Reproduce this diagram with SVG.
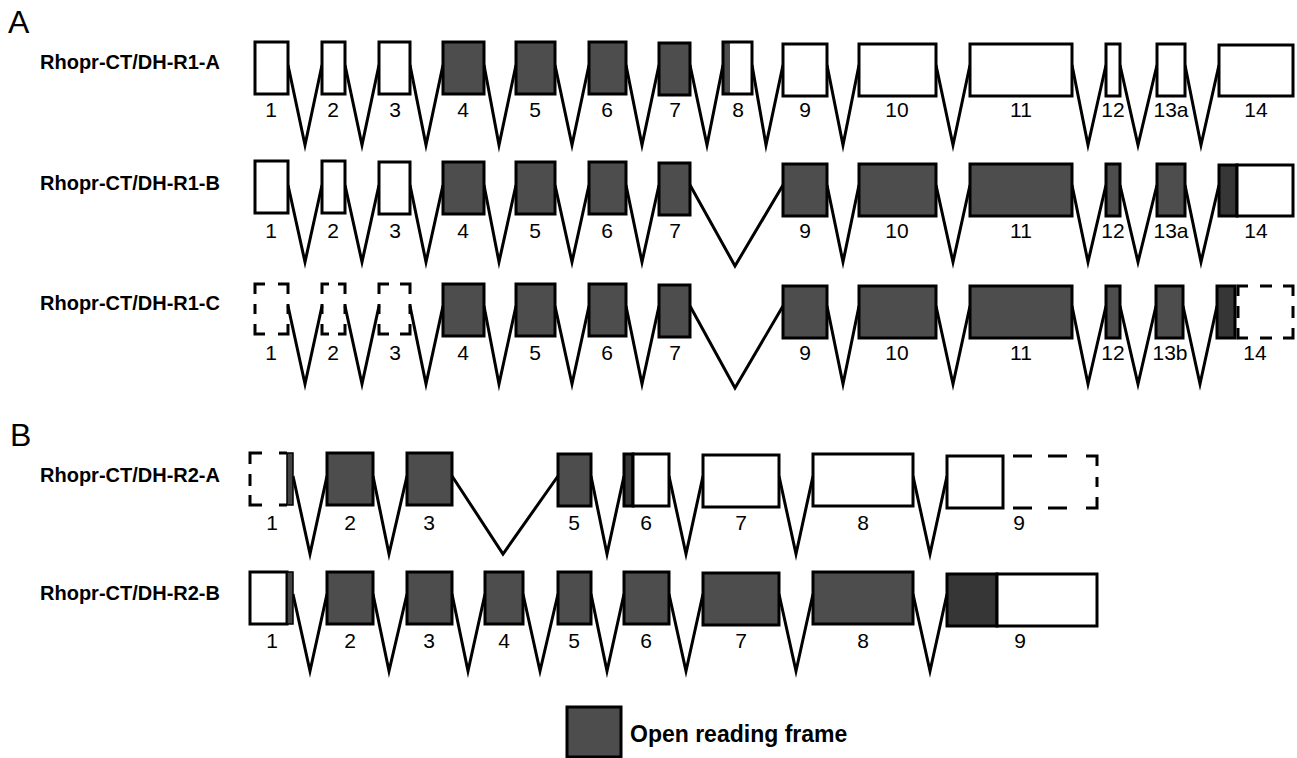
<svg xmlns="http://www.w3.org/2000/svg" width="1297" height="758" viewBox="0 0 1297 758">
<style>
.e{stroke:#000;stroke-width:3}
.w{fill:#fff}
.d{fill:#4d4d4d}
.dd{fill:#363636}
.o{fill:none;stroke:#000;stroke-width:3}
.ds{fill:none;stroke:#000;stroke-width:3;stroke-linejoin:miter}
.in{fill:none;stroke:#000;stroke-width:3;stroke-linejoin:miter;stroke-miterlimit:20}
.n{font-family:"Liberation Sans",Arial,sans-serif;font-size:21px;text-anchor:middle;fill:#000}
.l{font-family:"Liberation Sans",Arial,sans-serif;font-size:20px;font-weight:bold;fill:#000}
.p{font-family:"Liberation Sans",Arial,sans-serif;font-size:32px;fill:#000}
</style>
<rect width="1297" height="758" fill="#fff"/>
<text class="p" x="8" y="33">A</text>
<text class="p" x="10" y="446">B</text>
<text class="l" x="40" y="69">Rhopr-CT/DH-R1-A</text>
<text class="l" x="40" y="190">Rhopr-CT/DH-R1-B</text>
<text class="l" x="40" y="310">Rhopr-CT/DH-R1-C</text>
<text class="l" x="40" y="482">Rhopr-CT/DH-R2-A</text>
<text class="l" x="40" y="600">Rhopr-CT/DH-R2-B</text>

<g id="introns">
<polyline class="in" points="288,65 305,145 322,65"/>
<polyline class="in" points="345,65 362,145 379,65"/>
<polyline class="in" points="410,65 426,145 443,65"/>
<polyline class="in" points="484,65 499,145 516,65"/>
<polyline class="in" points="555,65 572,145 589,65"/>
<polyline class="in" points="626,65 642,145 659,65"/>
<polyline class="in" points="690,65 707,145 723,65"/>
<polyline class="in" points="752,65 766,145 783,65"/>
<polyline class="in" points="827,65 843,145 859,65"/>
<polyline class="in" points="936,65 953,145 970,65"/>
<polyline class="in" points="1072,65 1088,145 1106,65"/>
<polyline class="in" points="1120,65 1138,145 1157,65"/>
<polyline class="in" points="1185,65 1201,145 1219,65"/>

<polyline class="in" points="288,185 305,262 322,185"/>
<polyline class="in" points="345,185 362,262 379,185"/>
<polyline class="in" points="410,185 426,262 443,185"/>
<polyline class="in" points="484,185 499,262 516,185"/>
<polyline class="in" points="555,185 572,262 589,185"/>
<polyline class="in" points="626,185 642,262 659,185"/>
<polyline class="in" points="690,185 735,266 783,185"/>
<polyline class="in" points="827,185 843,262 859,185"/>
<polyline class="in" points="936,185 953,262 970,185"/>
<polyline class="in" points="1072,185 1088,262 1106,185"/>
<polyline class="in" points="1120,185 1138,262 1157,185"/>
<polyline class="in" points="1185,185 1201,262 1219,185"/>

<polyline class="in" points="288,306 305,384 322,306"/>
<polyline class="in" points="345,306 362,384 379,306"/>
<polyline class="in" points="410,306 426,384 443,306"/>
<polyline class="in" points="484,306 499,384 516,306"/>
<polyline class="in" points="555,306 572,384 589,306"/>
<polyline class="in" points="626,306 642,384 659,306"/>
<polyline class="in" points="690,306 735,388 783,306"/>
<polyline class="in" points="827,306 843,384 859,306"/>
<polyline class="in" points="936,306 953,384 970,306"/>
<polyline class="in" points="1072,306 1088,384 1106,306"/>
<polyline class="in" points="1120,306 1138,384 1156,306"/>
<polyline class="in" points="1183,306 1200,384 1217,306"/>

<polyline class="in" points="293,476 310,554 327,476"/>
<polyline class="in" points="373,476 389,554 407,476"/>
<polyline class="in" points="452,476 503,554 558,476"/>
<polyline class="in" points="591,476 607,554 624,476"/>
<polyline class="in" points="669,476 686,554 703,476"/>
<polyline class="in" points="779,476 796,554 813,476"/>
<polyline class="in" points="913,476 930,554 947,476"/>

<polyline class="in" points="293,594 310,671 327,594"/>
<polyline class="in" points="373,594 389,671 407,594"/>
<polyline class="in" points="452,594 468,671 485,594"/>
<polyline class="in" points="523,594 540,671 558,594"/>
<polyline class="in" points="591,594 607,671 624,594"/>
<polyline class="in" points="669,594 686,671 703,594"/>
<polyline class="in" points="779,594 796,671 813,594"/>
<polyline class="in" points="913,594 930,671 947,594"/>
</g>

<!-- Row R1-A -->
<g id="r1a-e1"><rect class="e w" x="255" y="42" width="33" height="52"/><text class="n" x="271" y="117">1</text></g>
<g id="r1a-e2"><rect class="e w" x="322" y="42" width="23" height="52"/><text class="n" x="333" y="117">2</text></g>
<g id="r1a-e3"><rect class="e w" x="379" y="42" width="31" height="52"/><text class="n" x="395" y="117">3</text></g>
<g id="r1a-e4"><rect class="e d" x="443" y="42" width="41" height="52"/><text class="n" x="463" y="117">4</text></g>
<g id="r1a-e5"><rect class="e d" x="516" y="42" width="39" height="52"/><text class="n" x="535" y="117">5</text></g>
<g id="r1a-e6"><rect class="e d" x="589" y="42" width="37" height="52"/><text class="n" x="607" y="117">6</text></g>
<g id="r1a-e7"><rect class="e d" x="659" y="43" width="31" height="52"/><text class="n" x="675" y="117">7</text></g>
<g id="r1a-e8"><rect class="w" x="723" y="42" width="29" height="52"/><rect class="d" x="723" y="42" width="7" height="52"/><rect class="o" x="723" y="42" width="29" height="52"/><text class="n" x="738" y="117">8</text></g>
<g id="r1a-e9"><rect class="e w" x="783" y="44" width="44" height="52"/><text class="n" x="805" y="117">9</text></g>
<g id="r1a-e10"><rect class="e w" x="859" y="44" width="77" height="52"/><text class="n" x="897" y="117">10</text></g>
<g id="r1a-e11"><rect class="e w" x="970" y="44" width="102" height="52"/><text class="n" x="1021" y="117">11</text></g>
<g id="r1a-e12"><rect class="e w" x="1106" y="44" width="14" height="52"/><text class="n" x="1113" y="117">12</text></g>
<g id="r1a-e13a"><rect class="e w" x="1157" y="44" width="28" height="52"/><text class="n" x="1171" y="117">13a</text></g>
<g id="r1a-e14"><rect class="e w" x="1219" y="45" width="74" height="51"/><text class="n" x="1256" y="117">14</text></g>

<!-- Row R1-B -->
<g id="r1b-e1"><rect class="e w" x="255" y="161" width="33" height="52"/><text class="n" x="271" y="238">1</text></g>
<g id="r1b-e2"><rect class="e w" x="322" y="161" width="23" height="52"/><text class="n" x="333" y="238">2</text></g>
<g id="r1b-e3"><rect class="e w" x="379" y="162" width="31" height="52"/><text class="n" x="395" y="238">3</text></g>
<g id="r1b-e4"><rect class="e d" x="443" y="162" width="41" height="52"/><text class="n" x="463" y="238">4</text></g>
<g id="r1b-e5"><rect class="e d" x="516" y="162" width="39" height="52"/><text class="n" x="535" y="238">5</text></g>
<g id="r1b-e6"><rect class="e d" x="589" y="162" width="37" height="52"/><text class="n" x="607" y="238">6</text></g>
<g id="r1b-e7"><rect class="e d" x="659" y="163" width="31" height="52"/><text class="n" x="675" y="238">7</text></g>
<g id="r1b-e9"><rect class="e d" x="783" y="164" width="44" height="52"/><text class="n" x="805" y="238">9</text></g>
<g id="r1b-e10"><rect class="e d" x="859" y="164" width="77" height="52"/><text class="n" x="897" y="238">10</text></g>
<g id="r1b-e11"><rect class="e d" x="970" y="164" width="102" height="52"/><text class="n" x="1021" y="238">11</text></g>
<g id="r1b-e12"><rect class="e d" x="1106" y="164" width="14" height="52"/><text class="n" x="1113" y="238">12</text></g>
<g id="r1b-e13a"><rect class="e d" x="1157" y="164" width="28" height="52"/><text class="n" x="1171" y="238">13a</text></g>
<g id="r1b-e14"><rect class="e dd" x="1219" y="165" width="18" height="51"/><rect class="e w" x="1237" y="165" width="56" height="51"/><text class="n" x="1256" y="238">14</text></g>

<!-- Row R1-C -->
<g id="r1c-e1"><path class="ds" d="M255,294V284H265M278,284H288V294M255,304V314M288,304V314M255,324V334H265M278,334H288V324"/><text class="n" x="271" y="360">1</text></g>
<g id="r1c-e2"><path class="ds" d="M322,294V284H329M338,284H345V294M322,304V314M345,304V314M322,324V334H329M338,334H345V324"/><text class="n" x="333" y="360">2</text></g>
<g id="r1c-e3"><path class="ds" d="M379,294V284H389M400,284H410V294M379,304V314M410,304V314M379,324V334H389M400,334H410V324"/><text class="n" x="395" y="360">3</text></g>
<g id="r1c-e4"><rect class="e d" x="443" y="284" width="41" height="52"/><text class="n" x="463" y="360">4</text></g>
<g id="r1c-e5"><rect class="e d" x="516" y="284" width="39" height="52"/><text class="n" x="535" y="360">5</text></g>
<g id="r1c-e6"><rect class="e d" x="589" y="284" width="37" height="52"/><text class="n" x="607" y="360">6</text></g>
<g id="r1c-e7"><rect class="e d" x="659" y="285" width="31" height="52"/><text class="n" x="675" y="360">7</text></g>
<g id="r1c-e9"><rect class="e d" x="783" y="286" width="44" height="52"/><text class="n" x="805" y="360">9</text></g>
<g id="r1c-e10"><rect class="e d" x="859" y="286" width="77" height="52"/><text class="n" x="897" y="360">10</text></g>
<g id="r1c-e11"><rect class="e d" x="970" y="286" width="102" height="52"/><text class="n" x="1021" y="360">11</text></g>
<g id="r1c-e12"><rect class="e d" x="1106" y="286" width="14" height="52"/><text class="n" x="1113" y="360">12</text></g>
<g id="r1c-e13b"><rect class="e d" x="1156" y="286" width="27" height="52"/><text class="n" x="1170" y="360">13b</text></g>
<g id="r1c-e14"><rect class="e dd" x="1217" y="286" width="18" height="52"/><path class="ds" d="M1238,296V286H1248M1260,286H1272M1283,286H1293V296M1238,306V318M1293,306V318M1238,328V338H1248M1260,338H1272M1283,338H1293V328"/><text class="n" x="1255" y="360">14</text></g>

<!-- Row R2-A -->
<g id="r2a-e1"><path class="ds" d="M250,464V453H262M279,453H287M250,474V486M250,495V505H262M279,505H287"/><rect x="287" y="453" width="6" height="52" fill="#444" stroke="#000" stroke-width="1.5"/><text class="n" x="272" y="530">1</text></g>
<g id="r2a-e2"><rect class="e d" x="327" y="453" width="46" height="52"/><text class="n" x="350" y="530">2</text></g>
<g id="r2a-e3"><rect class="e d" x="407" y="453" width="45" height="52"/><text class="n" x="429" y="530">3</text></g>
<g id="r2a-e5"><rect class="e d" x="558" y="454" width="33" height="52"/><text class="n" x="574" y="530">5</text></g>
<g id="r2a-e6"><rect class="e dd" x="624" y="454" width="9" height="52"/><rect class="e w" x="633" y="454" width="36" height="52"/><text class="n" x="646" y="530">6</text></g>
<g id="r2a-e7"><rect class="e w" x="703" y="455" width="76" height="52"/><text class="n" x="741" y="530">7</text></g>
<g id="r2a-e8"><rect class="e w" x="813" y="454" width="100" height="52"/><text class="n" x="863" y="530">8</text></g>
<g id="r2a-e9"><rect class="e w" x="947" y="456" width="56" height="52"/><path class="ds" d="M1013,456H1032M1048,456H1067M1086,456H1097V466M1097,477V487M1097,497V508H1086M1067,508H1048M1032,508H1013"/><text class="n" x="1019" y="530">9</text></g>

<!-- Row R2-B -->
<g id="r2b-e1"><rect class="e w" x="250" y="572" width="37" height="52"/><rect x="287" y="572" width="6" height="52" fill="#444" stroke="#000" stroke-width="1.5"/><text class="n" x="272" y="648">1</text></g>
<g id="r2b-e2"><rect class="e d" x="327" y="572" width="46" height="52"/><text class="n" x="350" y="648">2</text></g>
<g id="r2b-e3"><rect class="e d" x="407" y="572" width="45" height="52"/><text class="n" x="429" y="648">3</text></g>
<g id="r2b-e4"><rect class="e d" x="485" y="572" width="38" height="52"/><text class="n" x="504" y="648">4</text></g>
<g id="r2b-e5"><rect class="e d" x="558" y="572" width="33" height="52"/><text class="n" x="574" y="648">5</text></g>
<g id="r2b-e6"><rect class="e d" x="624" y="572" width="45" height="52"/><text class="n" x="646" y="648">6</text></g>
<g id="r2b-e7"><rect class="e d" x="703" y="573" width="76" height="52"/><text class="n" x="741" y="648">7</text></g>
<g id="r2b-e8"><rect class="e d" x="813" y="572" width="100" height="52"/><text class="n" x="863" y="648">8</text></g>
<g id="r2b-e9"><rect class="e dd" x="947" y="574" width="50" height="52"/><rect class="e w" x="997" y="574" width="100" height="52"/><text class="n" x="1020" y="648">9</text></g>

<!-- Legend -->
<g id="legend"><rect class="e d" x="567" y="707" width="54" height="50"/><text class="l" x="630" y="742" style="font-size:23px">Open reading frame</text></g>
</svg>
